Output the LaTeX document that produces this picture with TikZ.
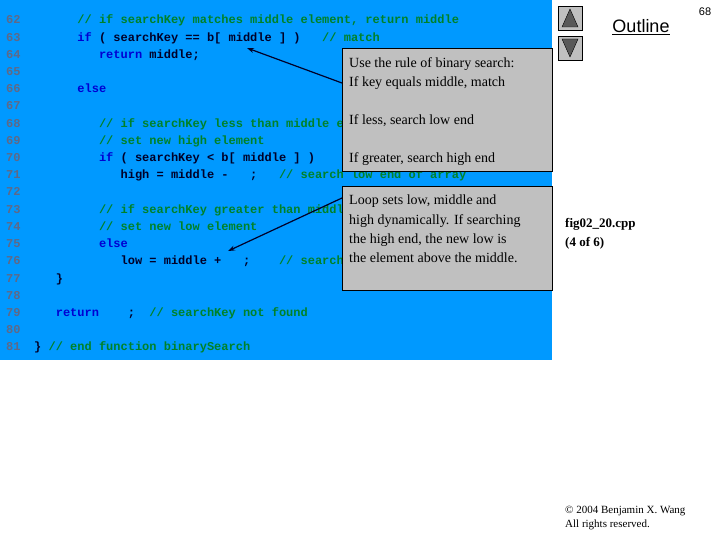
\documentclass[tikz,border=0pt]{standalone}
\usepackage{fontspec}
\setmainfont{Liberation Serif}
\newfontfamily\cour{Liberation Mono}
\newfontfamily\ari{Liberation Sans}
\usetikzlibrary{arrows.meta}
\definecolor{bg}{RGB}{0,153,255}
\definecolor{cm}{RGB}{0,130,40}
\definecolor{kw}{RGB}{0,0,210}
\definecolor{tx}{RGB}{0,0,40}
\definecolor{ln}{RGB}{95,105,135}
\definecolor{box}{RGB}{192,192,192}
\newcommand{\C}[1]{\textcolor{cm}{#1}}
\newcommand{\K}[1]{\textcolor{kw}{#1}}
\newcommand{\codeline}[3]{\node[code] (c#1) at ({34+7.2*#2},{24+17.2*(#1-62)}) {#3};}
\begin{document}
\begin{tikzpicture}[x=1pt,y=-1pt,
  code/.style={anchor=base west,inner sep=0pt,font=\cour\bfseries\fontsize{12}{12}\selectfont,text=tx},
  lnum/.style={anchor=base west,inner sep=0pt,font=\cour\bfseries\fontsize{12}{12}\selectfont,text=ln},
  callout/.style={draw=black,fill=box,anchor=north west,inner sep=0pt,minimum width=210pt,align=left},
  ctext/.style={anchor=north west,inner sep=0pt,align=left,font=\fontsize{14}{19.3}\selectfont},
  arr/.style={draw=tx,line width=1.2pt,-{Stealth[length=7pt,width=5pt]}}]
\useasboundingbox (0,0) rectangle (720,540);
\fill[bg] (0,0) rectangle (552,360);
\foreach \n [count=\i from 0] in {62,...,81} {
  \node[lnum] at (6,{24+17.2*\i}) {\n};
}
\codeline{62}{6}{\C{// if searchKey matches middle element, return middle}}
\codeline{63}{6}{\K{if} ( searchKey == b[ middle ] )\ \ \ \C{// match}}
\codeline{64}{9}{\K{return} middle;}
\codeline{66}{6}{\K{else}}
\codeline{68}{9}{\C{// if searchKey less than middle element,}}
\codeline{69}{9}{\C{// set new high element}}
\codeline{70}{9}{\K{if} ( searchKey < b[ middle ] )}
\codeline{71}{12}{high = middle -\ \ \ ;\ \ \ \C{// search low end of array}}
\codeline{73}{9}{\C{// if searchKey greater than middle element,}}
\codeline{74}{9}{\C{// set new low element}}
\codeline{75}{9}{\K{else}}
\codeline{76}{12}{low = middle +\ \ \ ;\ \ \ \ \C{// search high end of array}}
\codeline{77}{3}{\}}
\codeline{79}{3}{\K{return}\ \ \ \ ;\ \ \C{// searchKey not found}}
\codeline{81}{0}{\} \C{// end function binarySearch}}
\node[callout,minimum height=123pt] (b1) at (342,48) {};
\node[ctext] at (349,57) {Use the rule of binary search:\\If key equals middle, match\\[19pt]If less, search low end\\[19pt]If greater, search high end};
\node[callout,minimum height=104pt] (b2) at (342,186) {};
\node[ctext] at (349,195) {Loop sets low, middle and\\high dynamically. If searching\\the high end, the new low is\\the element above the middle.};
\coordinate (t1) at (247,48);
\coordinate (t2) at (228,251);
\draw[arr] (b1.west |- 0,83) -- (t1);
\draw[arr] (b2.west |- 0,198) -- (t2);
\node[draw=black,fill=box,minimum size=24pt,inner sep=0pt,anchor=north west] (up) at (558,6) {};
\node[draw=black,fill=box,minimum size=24pt,inner sep=0pt,anchor=north west] (dn) at (558,36) {};
\fill[gray!70!black,draw=black] (562,27) -- (570,9) -- (578,27) -- cycle;
\fill[gray!70!black,draw=black] (562,39) -- (570,57) -- (578,39) -- cycle;
\node[font=\ari\fontsize{18}{18}\selectfont] (ol) at (641,27) {\underline{Outline}};
\node[font=\ari\fontsize{11}{11}\selectfont] (pg) at (705,12) {68};
\node[anchor=north west,inner sep=0pt,align=left,font=\bfseries\fontsize{13}{19}\selectfont] (fg) at (565,218) {fig02\_20.cpp\\(4 of 6)};
\node[anchor=north west,inner sep=0pt,align=left,font=\fontsize{11}{13.5}\selectfont] (cp) at (565,506) {© 2004 Benjamin X. Wang\\All rights reserved.};
\end{tikzpicture}
\end{document}
